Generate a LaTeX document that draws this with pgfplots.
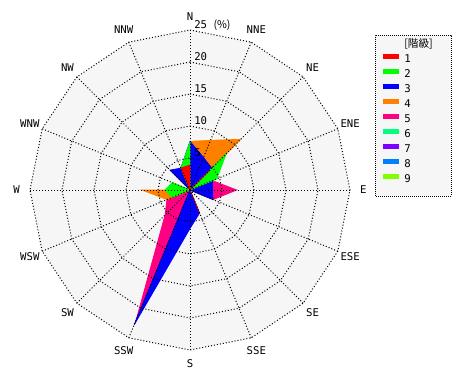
\documentclass[border=0pt]{standalone}
\usepackage{pgfplots}
\pgfplotsset{compat=1.18}
\usepackage{pgfplotstable}
\usepackage{fontspec}
\setmainfont{DejaVu Sans Mono}
\newfontfamily\cjk{Noto Sans CJK JP}

\definecolor{k1}{RGB}{255,0,0}
\definecolor{k2}{RGB}{0,255,0}
\definecolor{k3}{RGB}{0,0,255}
\definecolor{k4}{RGB}{255,128,0}
\definecolor{k5}{RGB}{255,0,128}
\definecolor{k6}{RGB}{0,255,128}
\definecolor{k7}{RGB}{128,0,255}
\definecolor{k8}{RGB}{0,128,255}
\definecolor{k9}{RGB}{128,255,0}
\definecolor{bgc}{RGB}{246,246,246}

% bearing (deg, clockwise from N) and frequency (%) of each class
\pgfplotstableread{
b     c1   c2   c3    c4    c5    c6 c7 c8 c9
0     3.9  7.5  7.6   7.6   0     0  0  0  0
22.5  0    0    5.5   8.4   0     0  0  0  0
45    4.4  8.0  4.8   11.2  0     0  0  0  0
67.5  0    4.5  3.8   0     3.8   0  0  0  0
90    0    0    3.5   0     7.3   0  0  0  0
112.5 0    0    3.9   0     3.9   0  0  0  0
135   0    0    0     0     0     0  0  0  0
157.5 4.0  0    3.9   0     0     0  0  0  0
180   0    0    6.0   0     0     0  0  0  0
202.5 0    0    22.8  0     22.0  0  0  0  0
225   0    0    0     0     5.5   0  0  0  0
247.5 0    3.0  0     3.9   3.9   0  0  0  0
270   0    3.9  0     7.5   0     0  0  0  0
292.5 0    3.0  0     0     0     0  0  0  0
315   0    0    4.4   0     0     0  0  0  0
337.5 3.7  3.7  3.7   0     0     0  0  0  0
360   3.9  7.5  7.6   7.6   0     0  0  0  0
}\rose

\pgfplotstableread{
b     r
0     1
22.5  1
45    1
67.5  1
90    1
112.5 1
135   1
157.5 1
180   1
202.5 1
225   1
247.5 1
270   1
292.5 1
315   1
337.5 1
360   1
}\ring

\pgfplotstableread{
i r
0 0
1 25
}\spoke

\tikzset{gridline/.style={black, line width=0.75pt, dash pattern=on 0.75pt off 1.5pt}}

\begin{document}
\begin{tikzpicture}
\path[use as bounding box] (0pt,0pt) rectangle (352.5pt,285pt);
\fill[white] (0pt,0pt) rectangle (352.5pt,285pt);
\draw[fill=bgc, line width=0.75pt, dash pattern=on 0.75pt off 0.75pt] (281.25pt,138pt) rectangle (338.25pt,258.75pt);
\begin{axis}[
  at={(142.5pt,142.5pt)}, anchor=origin,
  x=4.8pt, y=4.8pt,
  xmin=-25, xmax=25, ymin=-25, ymax=25,
  hide axis, clip=false,
  reverse legend,
  legend style={at={(axis cs:29.69,23.65)}, anchor=north west,
    draw=none, fill=none, inner sep=0pt, row sep=3.2pt, column sep=2.25pt,
    font=\fontsize{8}{9}\selectfont,
    nodes={inner sep=0pt, text height=6.2pt, text depth=1.8pt}},
  legend cell align=left,
  legend image code/.code={\draw[solid, line width=3.75pt] (0pt,2.2pt) -- (12pt,2.2pt);},
]
\addplot[draw=none, fill=bgc, forget plot] table[x expr={25*sin(\thisrow{b})}, y expr={25*cos(\thisrow{b})}] {\ring};

\addplot[fill=k9, draw=k9, line width=0.6pt] table[x expr={\thisrow{c9}*sin(\thisrow{b})}, y expr={\thisrow{c9}*cos(\thisrow{b})}] {\rose};
\addlegendentry{9}
\addplot[fill=k8, draw=k8, line width=0.6pt] table[x expr={\thisrow{c8}*sin(\thisrow{b})}, y expr={\thisrow{c8}*cos(\thisrow{b})}] {\rose};
\addlegendentry{8}
\addplot[fill=k7, draw=k7, line width=0.6pt] table[x expr={\thisrow{c7}*sin(\thisrow{b})}, y expr={\thisrow{c7}*cos(\thisrow{b})}] {\rose};
\addlegendentry{7}
\addplot[fill=k6, draw=k6, line width=0.6pt] table[x expr={\thisrow{c6}*sin(\thisrow{b})}, y expr={\thisrow{c6}*cos(\thisrow{b})}] {\rose};
\addlegendentry{6}
\addplot[fill=k5, draw=k5, line width=0.6pt] table[x expr={\thisrow{c5}*sin(\thisrow{b})}, y expr={\thisrow{c5}*cos(\thisrow{b})}] {\rose};
\addlegendentry{5}
\addplot[fill=k4, draw=k4, line width=0.6pt] table[x expr={\thisrow{c4}*sin(\thisrow{b})}, y expr={\thisrow{c4}*cos(\thisrow{b})}] {\rose};
\addlegendentry{4}
\addplot[fill=k3, draw=k3, line width=0.6pt] table[x expr={\thisrow{c3}*sin(\thisrow{b})}, y expr={\thisrow{c3}*cos(\thisrow{b})}] {\rose};
\addlegendentry{3}
\addplot[fill=k2, draw=k2, line width=0.6pt] table[x expr={\thisrow{c2}*sin(\thisrow{b})}, y expr={\thisrow{c2}*cos(\thisrow{b})}] {\rose};
\addlegendentry{2}
\addplot[fill=k1, draw=k1, line width=0.6pt] table[x expr={\thisrow{c1}*sin(\thisrow{b})}, y expr={\thisrow{c1}*cos(\thisrow{b})}] {\rose};
\addlegendentry{1}
\addlegendimage{empty legend}
\addlegendentry{{\cjk [階級]}}

\pgfplotsinvokeforeach{5,10,15,20,25}{
  \addplot[gridline, forget plot] table[x expr={#1*\thisrow{r}*sin(\thisrow{b})}, y expr={#1*\thisrow{r}*cos(\thisrow{b})}] {\ring};
}
\pgfplotsinvokeforeach{0,22.5,45,67.5,90,112.5,135,157.5,180,202.5,225,247.5,270,292.5,315,337.5}{
  \addplot[gridline, forget plot] table[x expr={\thisrow{r}*sin(#1)}, y expr={\thisrow{r}*cos(#1)}] {\spoke};
}
\end{axis}
\begin{scope}[font=\fontsize{8}{9}\selectfont]
\foreach \a/\t in {0/N,22.5/NNE,45/NE,67.5/ENE,90/E,112.5/ESE,135/SE,157.5/SSE,180/S,202.5/SSW,225/SW,247.5/WSW,270/W,292.5/WNW,315/NW,337.5/NNW}{
  \node[shift={(142.5pt,142.5pt)}, inner sep=0pt] at ({90-\a}:130pt) {\t};
}
\foreach \r in {5,10,15,20}{
  \node[anchor=base west, inner sep=0pt] at (145.5pt,{142.5pt+\r*4.8pt+0.8pt}) {\r};
}
\node[anchor=base west, inner sep=0pt] at (145.5pt,{142.5pt+25*4.8pt+0.8pt}) {25 {\cjk (\%)}};
\end{scope}
\end{tikzpicture}
\end{document}
